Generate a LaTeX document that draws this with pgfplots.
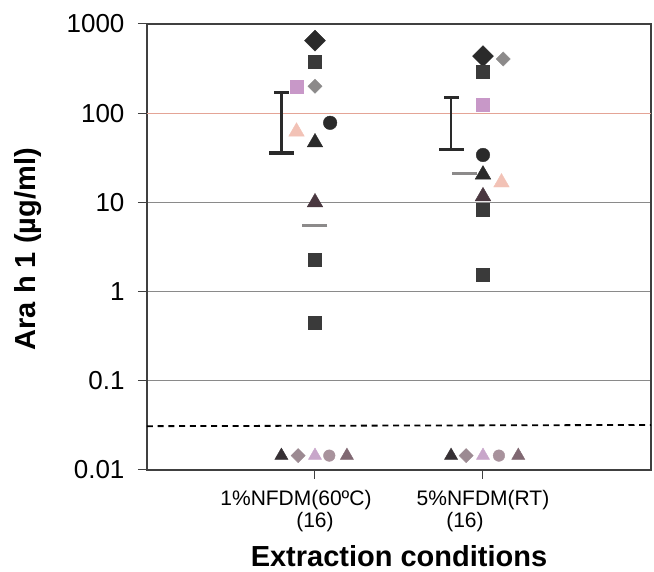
\documentclass[border=0pt]{standalone}
\usepackage{fontspec}
\setmainfont{Liberation Sans}
\usepackage{pgfplots}
\pgfplotsset{compat=1.18}

\definecolor{ink}{HTML}{2A2A2A}
\definecolor{sq}{HTML}{3A3A3A}
\definecolor{gry}{HTML}{8C8A8A}
\definecolor{pinksq}{HTML}{C898C8}
\definecolor{peach}{HTML}{F2C2B6}
\definecolor{mauve}{HTML}{4A3840}
\definecolor{gridc}{HTML}{8A8A8A}
\definecolor{salmon}{HTML}{E4A496}
\definecolor{b1}{HTML}{363034}
\definecolor{b2}{HTML}{9C8A92}
\definecolor{b3}{HTML}{C8A6CA}
\definecolor{b4}{HTML}{A8929C}
\definecolor{b5}{HTML}{806872}

\begin{document}
\begin{tikzpicture}
\begin{axis}[
  scale only axis, width=504pt, height=446pt,
  ymode=log, ymin=0.01, ymax=1000,
  xmin=0, xmax=3,
  xtick={1,2},
  xticklabels={{\hspace*{-38pt}1\%NFDM(60ºC)\\(16)},{5\%NFDM(RT)\\\hspace*{-36pt}(16)}},
  ytick={0.01,0.1,1,10,100,1000},
  yticklabels={0.01,0.1,1,10,100,1000},
  yminorticks=false,
  tick pos=left, tick align=outside, major tick length=9pt,
  ymajorgrids, major grid style={gridc, line width=1pt},
  axis line style={black!75, line width=1.2pt},
  tick style={black!75, line width=1pt},
  yticklabel style={font=\fontsize{26}{30}\selectfont, xshift=-10pt},
  xticklabel style={font=\fontsize{21}{22}\selectfont, align=center, yshift=-8pt},
  xlabel={Extraction conditions},
  xlabel style={font=\fontsize{29}{32}\selectfont\bfseries, at={(axis description cs:0.5,-0.194)}, anchor=center},
  ylabel={Ara h 1 (µg/ml)},
  ylabel style={font=\fontsize{29}{32}\selectfont\bfseries, at={(axis description cs:-0.236,0.495)}, anchor=center},
  clip=false,
]
\coordinate (O) at (rel axis cs:0,0);
% detection limit and coloured 100 line
\addplot[salmon, line width=1pt] coordinates {(0,100) (3,100)};
\addplot[black, line width=1.8pt, dash pattern=on 6pt off 4.7pt] coordinates {(0,0.031) (3,0.032)};

% mean + SD bars
\addplot[ink, line width=2.6pt] coordinates {(0.8,36) (0.8,170)};
\addplot[ink, line width=2.6pt] coordinates {(1.81,39) (1.81,151)};
\addplot[only marks, mark=-, mark size=7.5pt, mark options={ink, line width=2.6pt}] coordinates {(0.8,170) (1.81,151)};
\addplot[only marks, mark=-, mark size=12.5pt, mark options={ink, line width=3.6pt}] coordinates {(0.8,36) (1.81,39)};

% single sera
\addplot[only marks, mark=square*, mark size=7.4pt, mark options={rotate=45, fill=ink, draw=ink}] coordinates {(1,650) (2,437)};
\addplot[only marks, mark=square*, mark size=5pt, mark options={rotate=45, fill=gry, draw=gry}] coordinates {(1,200) (2.12,405)};
\addplot[only marks, mark=square*, mark size=6.5pt, mark options={fill=sq, draw=sq}] coordinates {(1,380) (1,2.3) (1,0.45) (2,290) (2,8.3) (2,1.55)};
\addplot[only marks, mark=square*, mark size=6.5pt, mark options={fill=pinksq, draw=pinksq}] coordinates {(0.89,200) (2,123)};
\addplot[only marks, mark=*, mark size=6.8pt, mark options={fill=ink, draw=ink}] coordinates {(1.09,78) (2,34)};
\addplot[only marks, mark=triangle*, mark size=9pt, mark options={fill=peach, draw=peach}] coordinates {(0.89,62) (2.11,16.7)};
\addplot[only marks, mark=triangle*, mark size=9pt, mark options={fill=ink, draw=ink}] coordinates {(1,47) (2,20.5)};
\addplot[only marks, mark=triangle*, mark size=9pt, mark options={fill=mauve, draw=mauve}] coordinates {(1,10) (2,11.7)};
\addplot[only marks, mark=-, mark size=12.5pt, mark options={gry, line width=3pt}] coordinates {(1,5.5) (1.89,21)};

% below detection limit
\addplot[only marks, mark=triangle*, mark size=7.6pt, mark options={fill=b1, draw=b1}] coordinates {(0.8,0.0145) (1.81,0.0145)};
\addplot[only marks, mark=square*, mark size=5pt, mark options={rotate=45, fill=b2, draw=b2}] coordinates {(0.9,0.0145) (1.9,0.0145)};
\addplot[only marks, mark=triangle*, mark size=7.6pt, mark options={fill=b3, draw=b3}] coordinates {(1,0.0145) (2,0.0145)};
\addplot[only marks, mark=*, mark size=5.8pt, mark options={fill=b4, draw=b4}] coordinates {(1.085,0.0145) (2.095,0.0145)};
\addplot[only marks, mark=triangle*, mark size=7.6pt, mark options={fill=b5, draw=b5}] coordinates {(1.19,0.0145) (2.21,0.0145)};
\end{axis}
\pgfresetboundingbox
\path[use as bounding box] (O) ++(-147pt,-102pt) rectangle ++(654pt,572pt);
\end{tikzpicture}
\end{document}
